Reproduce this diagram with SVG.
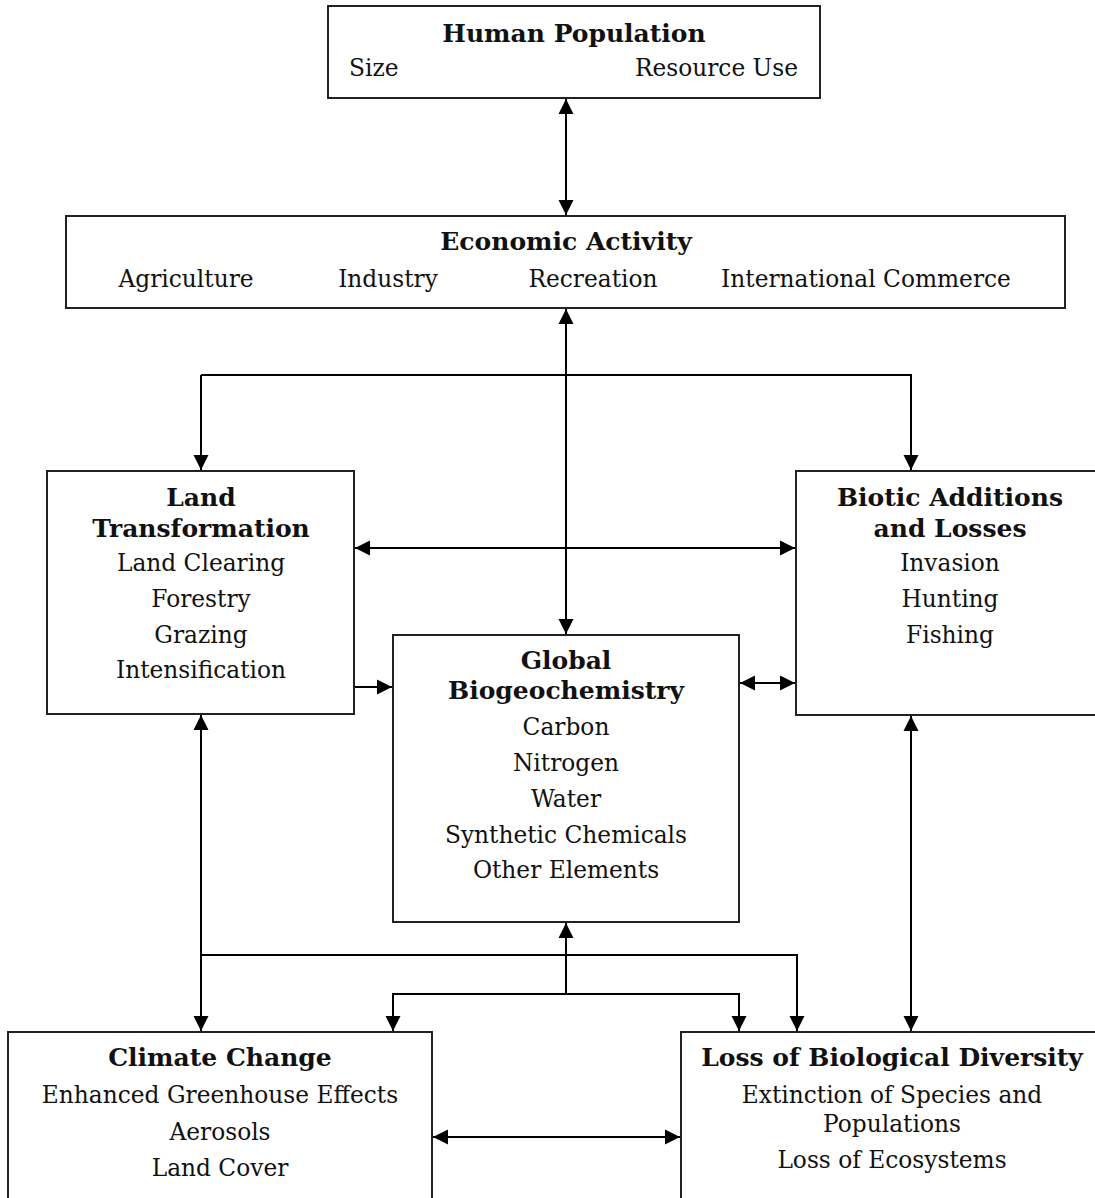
<svg xmlns="http://www.w3.org/2000/svg" width="1095" height="1198" viewBox="0 0 1095 1198">
<style>
.box{fill:#fff;stroke:#222;stroke-width:2}
.t{font-family:"DejaVu Serif","Liberation Serif",serif;font-size:23.3px;fill:#111;text-anchor:middle}
.b{font-weight:bold;font-size:25px}
.s{text-anchor:start}
.e{text-anchor:end}
.c{fill:none;stroke:#000;stroke-width:2}
.bi{marker-start:url(#ah);marker-end:url(#ah)}
.en{marker-end:url(#ah)}
</style>
<defs>
<marker id="ah" markerUnits="userSpaceOnUse" markerWidth="16" markerHeight="16" refX="15" refY="7.5" orient="auto-start-reverse" viewBox="0 0 16 15">
<path d="M0,0 L15,7.5 L0,15 z" fill="#000"/>
</marker>
</defs>
<rect width="1095" height="1198" fill="#fff"/>
<g id="connectors">
<line class="c bi" x1="566" y1="99" x2="566" y2="215"/>
<line class="c bi" x1="566" y1="309" x2="566" y2="634"/>
<path class="c en" d="M201,375 V470"/>
<path class="c en" d="M201,375 H911 V470"/>
<line class="c bi" x1="355" y1="548" x2="795" y2="548"/>
<line class="c en" x1="355" y1="687" x2="392" y2="687"/>
<line class="c bi" x1="740" y1="683" x2="795" y2="683"/>
<line class="c bi" x1="201" y1="715" x2="201" y2="1031"/>
<path class="c en" d="M201,955 H797 V1031"/>
<path class="c en" d="M566,994 V923"/>
<path class="c bi" d="M393,1031 V994 H739 V1031"/>
<line class="c bi" x1="911" y1="716" x2="911" y2="1031"/>
<line class="c bi" x1="433" y1="1137" x2="680" y2="1137"/>
</g>
<g id="human-population">
<rect class="box" x="328" y="6" width="492" height="92"/>
<text class="t b" x="574" y="42">Human Population</text>
<text class="t s" x="349" y="76">Size</text>
<text class="t e" x="798" y="76">Resource Use</text>
</g>
<g id="economic-activity">
<rect class="box" x="66" y="216" width="999" height="92"/>
<text class="t b" x="566" y="250">Economic Activity</text>
<text class="t" x="186" y="287">Agriculture</text>
<text class="t" x="388" y="287">Industry</text>
<text class="t" x="593" y="287">Recreation</text>
<text class="t" x="866" y="287">International Commerce</text>
</g>
<g id="land-transformation">
<rect class="box" x="47" y="471" width="307" height="243"/>
<text class="t b" x="201" y="506">Land</text>
<text class="t b" x="201" y="537">Transformation</text>
<text class="t" x="201" y="571">Land Clearing</text>
<text class="t" x="201" y="607">Forestry</text>
<text class="t" x="201" y="643">Grazing</text>
<text class="t" x="201" y="678">Intensification</text>
</g>
<g id="biotic-additions">
<rect class="box" x="796" y="471" width="330" height="244"/>
<text class="t b" x="950" y="506">Biotic Additions</text>
<text class="t b" x="950" y="537">and Losses</text>
<text class="t" x="950" y="571">Invasion</text>
<text class="t" x="950" y="607">Hunting</text>
<text class="t" x="950" y="643">Fishing</text>
</g>
<g id="global-biogeochemistry">
<rect class="box" x="393" y="635" width="346" height="287"/>
<text class="t b" x="566" y="669">Global</text>
<text class="t b" x="566" y="699">Biogeochemistry</text>
<text class="t" x="566" y="735">Carbon</text>
<text class="t" x="566" y="771">Nitrogen</text>
<text class="t" x="566" y="807">Water</text>
<text class="t" x="566" y="843">Synthetic Chemicals</text>
<text class="t" x="566" y="878">Other Elements</text>
</g>
<g id="climate-change">
<rect class="box" x="8" y="1032" width="424" height="200"/>
<text class="t b" x="220" y="1066">Climate Change</text>
<text class="t" x="220" y="1103">Enhanced Greenhouse Effects</text>
<text class="t" x="220" y="1140">Aerosols</text>
<text class="t" x="220" y="1176">Land Cover</text>
</g>
<g id="loss-biodiversity">
<rect class="box" x="681" y="1032" width="440" height="200"/>
<text class="t b" x="892" y="1066">Loss of Biological Diversity</text>
<text class="t" x="892" y="1103">Extinction of Species and</text>
<text class="t" x="892" y="1132">Populations</text>
<text class="t" x="892" y="1168">Loss of Ecosystems</text>
</g>
</svg>
